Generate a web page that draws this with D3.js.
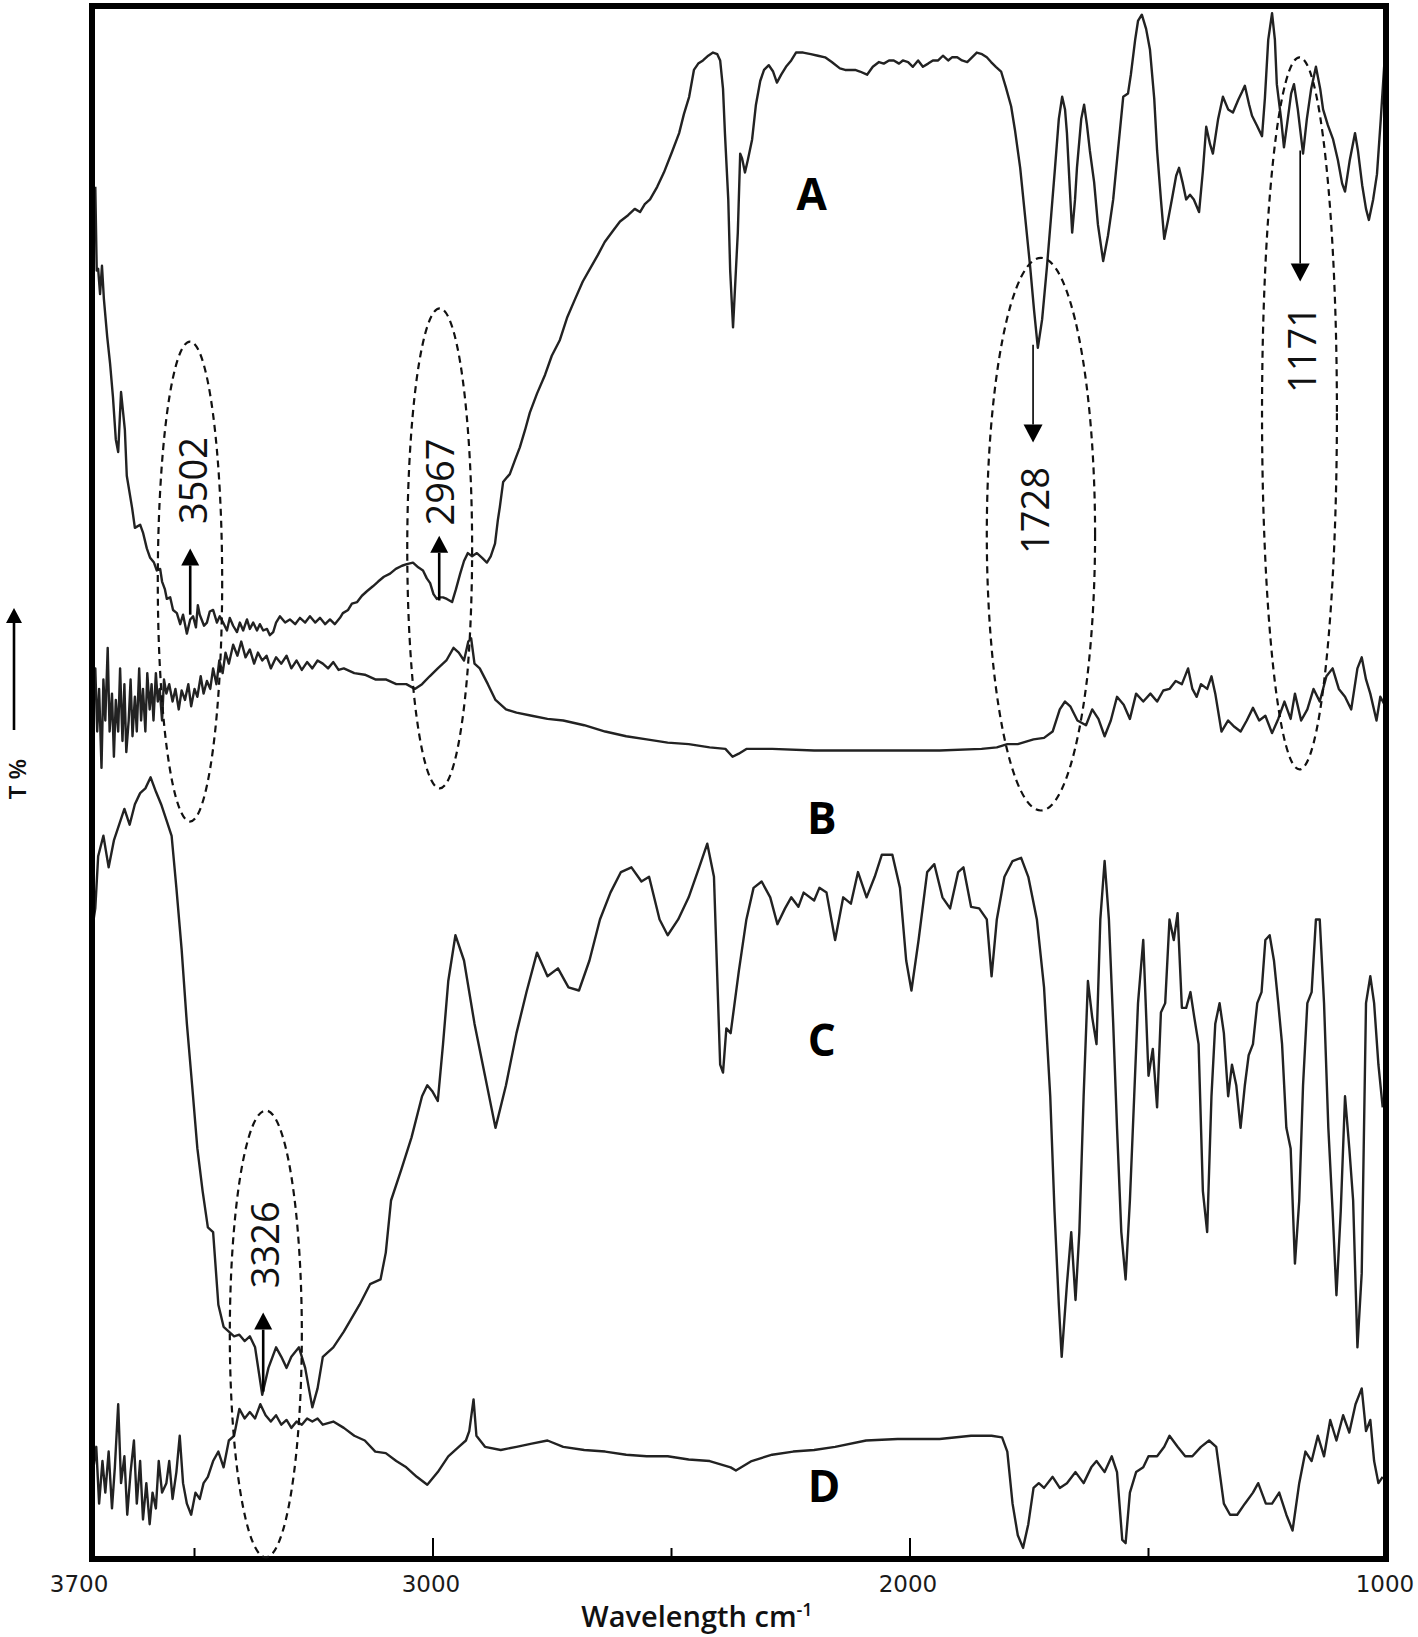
<!DOCTYPE html>
<html>
    <head>
        <meta charset="utf-8">
        <title>FTIR spectra A-D</title>
        <style>
            body { margin: 0; background: #fff; }
            svg { display: block; }
            .curve { fill: none; stroke: #222; stroke-width: 2.4; stroke-linejoin: round; }
            .oval { fill: none; stroke: #111; stroke-width: 2.2; stroke-dasharray: 7,5; }
        </style>
    </head>
    <body>
        <script src="https://d3js.org/d3.v7.min.js"></script>
        <script>
            // [wavenumber cm-1, T (relative %)]
            var seriesA = [
                [3708,88.5],[3705,83.2],[3702,83.3],[3698,81.7],[3694,83.5],[3690,81.4],[3683,79.0],[3677,77.3],[3671,75.2],[3665,72.5],
                [3660,71.7],[3654,75.5],[3646,73.1],[3642,70.2],[3631,68.2],[3625,66.9],[3614,67.1],[3608,66.6],[3600,65.6],[3593,65.0],
                [3585,64.7],[3579,64.2],[3572,64.3],[3568,63.5],[3562,63.0],[3558,62.4],[3551,62.5],[3545,61.7],[3537,61.5],[3530,60.8],
                [3524,61.4],[3516,60.2],[3509,61.1],[3503,61.3],[3497,60.6],[3493,62.0],[3489,61.4],[3480,60.7],[3474,60.9],[3468,61.6],
                [3461,61.7],[3453,60.9],[3447,61.3],[3440,60.9],[3432,60.4],[3426,61.2],[3419,60.7],[3411,60.3],[3405,60.9],[3398,60.4],
                [3390,61.1],[3384,60.5],[3377,60.9],[3369,60.4],[3363,60.8],[3356,60.4],[3348,60.5],[3342,60.1],[3335,60.3],[3329,60.9],
                [3321,61.3],[3310,60.9],[3300,61.1],[3289,60.8],[3279,61.2],[3268,60.9],[3258,61.3],[3247,60.9],[3237,61.2],[3226,60.8],
                [3216,61.1],[3206,60.8],[3195,61.2],[3189,61.5],[3178,61.7],[3170,62.1],[3159,62.2],[3149,62.6],[3138,62.9],[3126,63.2],
                [3115,63.5],[3103,63.8],[3090,64.0],[3078,64.3],[3065,64.5],[3055,64.6],[3042,64.7],[3031,64.4],[3021,64.2],[3013,63.7],
                [3006,63.4],[2999,62.7],[2992,62.4],[2985,62.5],[2979,62.5],[2971,62.4],[2960,62.2],[2952,63.0],[2943,64.0],[2935,64.8],
                [2927,65.3],[2918,65.1],[2908,65.3],[2897,65.0],[2887,64.7],[2879,65.1],[2870,65.9],[2864,67.4],[2860,68.2],[2853,69.8],
                [2845,70.1],[2839,70.3],[2828,71.2],[2818,72.0],[2807,73.1],[2797,74.2],[2782,75.4],[2765,76.6],[2751,77.8],[2734,78.8],
                [2719,80.2],[2702,81.4],[2686,82.5],[2671,83.3],[2654,84.2],[2640,85.0],[2623,85.7],[2608,86.3],[2591,86.7],[2577,87.1],
                [2566,86.9],[2556,87.4],[2545,87.7],[2530,88.5],[2516,89.4],[2499,90.7],[2484,91.9],[2474,93.1],[2463,94.2],[2453,95.9],
                [2444,96.3],[2434,96.5],[2423,96.8],[2413,97.0],[2404,96.9],[2398,96.5],[2392,94.7],[2388,91.9],[2381,87.7],[2377,83.2],
                [2371,79.6],[2365,83.2],[2361,85.6],[2356,90.6],[2352,90.3],[2346,89.4],[2340,90.2],[2331,91.5],[2323,93.7],[2314,95.2],
                [2306,95.9],[2296,96.2],[2287,95.8],[2279,95.1],[2270,95.6],[2260,96.1],[2249,96.5],[2239,97.0],[2224,97.0],[2208,96.9],
                [2193,96.8],[2178,96.7],[2164,96.4],[2147,96.0],[2136,95.9],[2126,95.9],[2115,95.9],[2105,95.8],[2090,95.6],[2078,96.1],
                [2065,96.4],[2055,96.3],[2044,96.5],[2034,96.5],[2023,96.3],[2015,96.5],[2004,96.4],[1994,96.1],[1983,96.5],[1973,96.1],
                [1962,96.3],[1952,96.5],[1941,96.5],[1931,96.8],[1920,96.5],[1912,96.7],[1901,96.7],[1891,96.5],[1880,96.4],[1870,96.7],
                [1860,97.0],[1849,96.9],[1839,96.7],[1830,96.4],[1820,96.1],[1809,95.8],[1799,94.8],[1788,93.6],[1780,92.1],[1769,89.7],
                [1759,86.7],[1748,83.4],[1740,80.7],[1732,78.3],[1723,80.1],[1713,83.4],[1704,86.7],[1696,89.7],[1688,92.8],[1681,94.2],
                [1675,93.4],[1671,91.9],[1665,88.4],[1660,85.6],[1654,87.7],[1650,89.7],[1641,92.8],[1635,93.7],[1629,92.4],[1623,90.8],
                [1614,88.8],[1606,86.1],[1595,83.8],[1585,85.4],[1574,87.7],[1564,90.8],[1553,94.2],[1543,94.4],[1537,95.6],[1528,97.8],
                [1522,99.0],[1514,99.4],[1505,98.5],[1497,97.2],[1488,94.1],[1482,90.8],[1474,87.7],[1467,85.2],[1459,86.4],[1451,87.7],
                [1442,89.2],[1436,89.7],[1428,88.7],[1421,87.7],[1413,88.0],[1405,87.7],[1394,86.9],[1386,89.5],[1379,92.3],[1371,91.2],
                [1365,90.6],[1354,92.8],[1344,94.2],[1333,93.4],[1323,93.2],[1312,94.0],[1304,94.5],[1298,94.9],[1289,93.7],[1283,93.0],
                [1273,92.4],[1262,91.7],[1256,94.1],[1249,97.8],[1241,99.5],[1235,97.8],[1231,95.0],[1222,92.8],[1216,91.0],[1208,92.8],
                [1201,94.4],[1195,95.0],[1187,93.4],[1176,90.6],[1168,92.8],[1159,94.7],[1149,96.1],[1140,94.7],[1134,93.4],[1124,92.4],
                [1113,91.5],[1103,90.2],[1094,88.7],[1088,88.2],[1078,90.2],[1067,91.9],[1061,90.8],[1052,88.6],[1044,87.1],[1038,86.4],
                [1029,87.7],[1021,89.3],[1013,92.8],[1006,96.1],[1002,97.2]
            ];
            var seriesB = [
                [3713,55.4],[3708,58.0],[3704,54.0],[3700,56.7],[3695,51.7],[3691,57.3],[3687,54.7],[3682,59.3],[3678,54.0],[3673,56.4],
                [3669,52.4],[3665,56.0],[3660,54.0],[3656,58.0],[3651,53.4],[3647,57.0],[3643,52.7],[3638,54.7],[3634,57.3],[3630,53.7],
                [3625,56.2],[3621,54.0],[3616,58.0],[3612,54.7],[3608,56.7],[3603,54.0],[3599,57.7],[3594,55.4],[3590,57.0],[3586,54.7],
                [3581,57.7],[3577,55.9],[3573,56.7],[3568,54.7],[3564,57.3],[3559,56.4],[3553,57.0],[3546,55.9],[3540,56.7],[3533,55.4],
                [3527,56.6],[3520,56.0],[3513,57.0],[3507,55.6],[3500,56.7],[3494,56.2],[3487,57.5],[3481,56.4],[3474,57.2],[3467,56.7],
                [3461,58.0],[3454,57.0],[3448,58.5],[3441,57.7],[3435,59.0],[3428,58.3],[3419,59.5],[3410,58.8],[3402,59.7],[3393,58.7],
                [3384,59.2],[3375,58.3],[3367,59.0],[3358,58.5],[3349,58.8],[3340,58.0],[3329,58.7],[3318,58.3],[3307,58.8],[3297,58.0],
                [3286,58.5],[3275,57.9],[3264,58.4],[3253,58.0],[3242,58.5],[3231,58.3],[3220,58.0],[3209,58.4],[3198,57.9],[3187,58.0],
                [3165,57.7],[3143,57.6],[3121,57.3],[3099,57.3],[3077,57.0],[3056,57.0],[3038,56.7],[3023,57.0],[3007,57.5],[2990,58.0],
                [2972,58.5],[2957,59.3],[2946,59.0],[2935,58.5],[2926,59.7],[2920,59.9],[2913,58.3],[2902,58.0],[2885,57.0],[2869,56.0],
                [2847,55.4],[2825,55.2],[2793,55.0],[2760,54.8],[2727,54.7],[2683,54.4],[2639,54.0],[2595,53.7],[2552,53.5],[2508,53.3],
                [2464,53.2],[2420,53.0],[2387,52.9],[2372,52.4],[2359,52.6],[2343,52.9],[2289,52.9],[2201,52.8],[2113,52.8],[2026,52.8],
                [1938,52.8],[1850,52.9],[1818,53.0],[1796,53.2],[1774,53.2],[1741,53.5],[1719,53.6],[1701,54.0],[1686,55.4],[1675,55.9],
                [1664,55.6],[1649,54.7],[1631,54.4],[1618,55.4],[1605,54.8],[1592,53.7],[1579,54.7],[1566,56.2],[1552,55.7],[1539,54.8],
                [1526,56.4],[1511,55.9],[1496,56.4],[1482,55.9],[1469,56.6],[1456,56.7],[1443,57.2],[1430,57.0],[1417,58.0],[1408,56.7],
                [1399,56.2],[1390,57.0],[1377,56.7],[1368,57.5],[1360,56.4],[1347,54.0],[1333,54.7],[1320,54.3],[1307,54.0],[1294,54.7],
                [1281,55.5],[1268,54.7],[1255,55.0],[1241,53.9],[1228,54.8],[1215,55.9],[1202,54.8],[1193,56.4],[1180,54.7],[1167,55.4],
                [1154,56.7],[1141,55.9],[1127,57.5],[1114,58.0],[1101,56.7],[1088,56.2],[1075,55.4],[1062,58.0],[1053,58.7],[1044,57.3],
                [1035,56.4],[1022,54.7],[1014,56.2],[1005,55.7]
            ];
            var seriesC = [
                [3713,41.8],[3708,42.8],[3702,46.1],[3691,47.4],[3680,45.4],[3669,47.1],[3658,48.1],[3647,49.1],[3636,48.1],[3625,49.4],
                [3614,50.1],[3603,50.4],[3592,51.1],[3581,50.2],[3570,49.4],[3559,48.4],[3548,47.4],[3538,44.1],[3527,40.2],[3516,35.5],
                [3505,31.6],[3494,27.6],[3483,24.9],[3472,22.6],[3461,22.3],[3450,17.7],[3439,16.3],[3428,16.0],[3417,15.7],[3406,15.8],
                [3395,15.4],[3384,15.7],[3373,15.0],[3358,12.0],[3345,13.7],[3329,15.0],[3318,14.4],[3307,13.7],[3297,14.4],[3281,15.0],
                [3268,13.7],[3253,11.2],[3242,12.4],[3231,14.4],[3209,15.0],[3187,16.0],[3154,17.7],[3132,19.0],[3110,19.3],[3099,21.0],
                [3088,24.3],[3066,26.3],[3045,28.3],[3023,30.9],[3012,31.6],[3001,31.2],[2990,30.6],[2979,34.2],[2968,38.2],[2953,41.1],
                [2935,39.5],[2913,35.5],[2891,32.2],[2869,28.9],[2847,31.6],[2825,34.9],[2804,37.5],[2782,40.0],[2760,38.5],[2738,39.0],
                [2716,37.8],[2694,37.6],[2672,39.5],[2650,42.1],[2628,43.8],[2606,45.1],[2584,45.4],[2563,44.5],[2547,44.8],[2525,42.1],
                [2508,41.1],[2486,42.1],[2464,43.5],[2442,45.4],[2425,46.9],[2411,44.8],[2398,32.9],[2392,32.4],[2385,35.2],[2376,34.9],
                [2359,38.8],[2343,42.1],[2328,44.1],[2311,44.5],[2293,43.5],[2278,41.8],[2262,42.8],[2249,43.5],[2234,42.9],[2223,43.8],
                [2201,43.3],[2190,44.1],[2175,43.8],[2157,40.8],[2140,43.5],[2124,43.1],[2109,45.1],[2091,43.5],[2074,44.8],[2059,46.2],
                [2037,46.2],[2021,44.1],[2008,39.5],[1997,37.6],[1982,40.8],[1964,45.1],[1949,45.6],[1932,43.5],[1916,42.8],[1899,45.1],
                [1888,45.4],[1872,42.9],[1855,42.8],[1839,42.1],[1829,38.5],[1818,42.1],[1802,44.8],[1785,45.8],[1767,46.0],[1752,44.8],
                [1734,42.1],[1719,37.8],[1706,30.9],[1697,23.6],[1688,17.7],[1682,14.4],[1671,19.0],[1662,22.3],[1653,18.0],[1645,22.3],
                [1636,30.9],[1627,38.2],[1618,35.9],[1609,34.2],[1601,42.1],[1592,45.8],[1583,42.1],[1574,35.5],[1566,28.9],[1557,22.3],
                [1548,19.3],[1539,24.3],[1530,30.9],[1522,36.8],[1511,40.8],[1500,32.2],[1491,33.9],[1482,30.2],[1474,36.2],[1465,36.8],
                [1456,42.1],[1447,40.8],[1439,42.5],[1430,36.5],[1421,36.5],[1412,37.5],[1404,35.9],[1395,34.2],[1386,24.9],[1377,22.3],
                [1368,30.9],[1360,35.5],[1351,36.8],[1342,34.9],[1333,30.9],[1325,32.9],[1316,31.6],[1307,28.9],[1298,31.6],[1290,33.5],
                [1281,34.2],[1272,36.8],[1263,37.5],[1255,40.8],[1246,41.1],[1237,39.5],[1228,36.8],[1220,34.2],[1211,28.9],[1202,27.6],
                [1193,20.3],[1184,24.3],[1176,31.6],[1167,36.8],[1158,37.5],[1149,42.1],[1141,42.1],[1132,36.8],[1123,28.9],[1114,23.6],
                [1106,18.3],[1097,23.6],[1088,30.9],[1079,27.6],[1071,24.3],[1062,15.0],[1053,19.7],[1044,36.8],[1035,38.5],[1027,36.8],
                [1018,32.9],[1009,30.2]
            ];
            var seriesD = [
                [3713,7.1],[3706,8.7],[3700,5.1],[3693,7.8],[3687,5.8],[3680,8.4],[3673,4.8],[3667,7.4],[3660,11.4],[3654,6.4],
                [3647,8.1],[3641,4.4],[3634,7.1],[3627,9.1],[3621,5.1],[3614,7.8],[3608,4.1],[3601,6.4],[3594,3.8],[3588,5.8],
                [3581,4.8],[3575,7.8],[3568,5.8],[3559,6.4],[3553,7.8],[3546,5.4],[3538,7.1],[3531,9.4],[3524,6.4],[3516,5.1],
                [3507,4.4],[3498,5.8],[3489,5.4],[3481,6.4],[3472,6.8],[3461,7.8],[3450,8.4],[3439,7.4],[3428,9.1],[3417,9.4],
                [3406,11.1],[3395,10.5],[3384,10.9],[3373,10.5],[3362,11.4],[3351,10.7],[3340,10.3],[3329,10.7],[3318,10.1],[3307,10.4],
                [3297,9.9],[3286,10.3],[3275,10.1],[3264,10.5],[3253,10.3],[3242,10.5],[3231,10.1],[3209,10.3],[3187,9.9],[3165,9.4],
                [3143,9.1],[3121,8.4],[3099,8.3],[3077,7.8],[3056,7.4],[3034,6.8],[3012,6.3],[2990,7.1],[2968,8.1],[2946,8.7],
                [2931,9.1],[2924,9.7],[2915,11.7],[2909,9.4],[2891,8.7],[2858,8.5],[2825,8.7],[2793,8.9],[2760,9.1],[2727,8.7],
                [2683,8.5],[2639,8.4],[2595,8.2],[2552,8.1],[2508,8.1],[2464,7.9],[2420,7.8],[2376,7.4],[2365,7.2],[2332,7.8],
                [2289,8.2],[2245,8.4],[2201,8.5],[2157,8.7],[2092,9.1],[2026,9.2],[1938,9.2],[1872,9.4],[1829,9.4],[1807,9.3],
                [1796,8.4],[1785,5.1],[1774,3.1],[1763,2.3],[1752,3.8],[1741,6.1],[1730,6.4],[1719,6.1],[1701,6.8],[1686,6.1],
                [1671,6.4],[1653,7.1],[1636,6.4],[1620,7.4],[1609,7.8],[1592,7.1],[1577,8.1],[1566,7.1],[1555,2.8],[1548,2.6],
                [1539,5.8],[1526,7.1],[1511,7.4],[1500,8.1],[1482,8.1],[1467,8.7],[1456,9.4],[1439,8.7],[1423,8.1],[1408,8.1],
                [1390,8.7],[1373,9.1],[1358,8.7],[1342,5.1],[1329,4.4],[1314,4.4],[1298,5.1],[1281,5.8],[1270,6.4],[1254,5.1],
                [1241,5.1],[1226,5.8],[1211,4.4],[1198,3.4],[1184,6.4],[1171,8.4],[1158,7.8],[1145,9.4],[1132,8.1],[1119,10.4],
                [1106,9.1],[1092,10.7],[1079,9.6],[1066,11.4],[1053,12.4],[1044,9.7],[1035,10.4],[1027,7.8],[1018,6.4],[1009,6.8]
            ];

            // 曲線名とその位置
            var curveNames = ["A", "B", "C", "D"];
            var curveNameWn = [2206, 2185, 2185, 2180];
            var curveNameT = [88.1, 48.6, 34.5, 6.3];

            // 目盛り
            var minorTicks = [3500, 2500, 1500];
            var majorTicks = [3000, 2000];
            var tickLabels = [3700, 3000, 2000, 1000];

            // ピーク注記
            var peakLabels = ["3502", "2967", "1728", "1171", "3326"];
            var peakLabelWn = [3505, 2987, 1740, 1180, 3354];
            var peakLabelT = [69.9, 69.8, 68.0, 78.2, 21.5];
            var ovalWn = [[3577, 3442], [3054, 2918], [1839, 1612], [1262, 1105], [3426, 3275]];
            var ovalT = [[78.7, 48.3], [80.8, 50.4], [84.0, 49.0], [96.7, 51.6], [30.0, 1.7]];
            var arrowWn = [3509, 2987, 1742, 1182, 3356];
            var arrowT = [[61.4, 65.6], [62.3, 66.4], [78.5, 72.3], [90.8, 82.5], [12.2, 17.2]];

            var width = 1418, height = 1637;
            var frame = {left: 92, right: 1386, top: 6, bottom: 1559};

            var svg = d3.select("body").append("svg")
                .attr("width", width)
                .attr("height", height);

            svg.append("rect")
                .attr("width", width).attr("height", height)
                .attr("fill", "#fff");

            var x = d3.scaleLinear().domain([3717, 1000]).range([91, 1387]);
            var y = d3.scaleLinear().domain([0, 100]).range([1584.2, 5.2]);

            var line = d3.line()
                .x(function(d) { return x(d[0]); })
                .y(function(d) { return y(d[1]); });

            // スペクトル
            svg.append("g")
                .selectAll("path")
                .data([seriesA, seriesB, seriesC, seriesD])
                .enter()
                .append("path")
                .attr("class", "curve")
                .attr("d", line);

            // 枠
            svg.append("rect")
                .attr("x", frame.left).attr("y", frame.top)
                .attr("width", frame.right - frame.left)
                .attr("height", frame.bottom - frame.top)
                .attr("fill", "none")
                .attr("stroke", "#000")
                .attr("stroke-width", 6);

            // x軸目盛り（内向き）
            var ticks = svg.append("g");
            ticks.selectAll("line.minor")
                .data(minorTicks).enter().append("line")
                .attr("x1", x).attr("x2", x)
                .attr("y1", frame.bottom - 3).attr("y2", frame.bottom - 11)
                .attr("stroke", "#000").attr("stroke-width", 2);
            ticks.selectAll("line.major")
                .data(majorTicks).enter().append("line")
                .attr("x1", x).attr("x2", x)
                .attr("y1", frame.bottom - 3).attr("y2", frame.bottom - 21)
                .attr("stroke", "#000").attr("stroke-width", 2);

            ticks.selectAll("text")
                .data(tickLabels).enter().append("text")
                .attr("x", function(d) { return x(d) + (d === 3700 ? -20 : -2); })
                .attr("y", 1592)
                .attr("text-anchor", "middle")
                .style("font-family", "'DejaVu Sans', sans-serif")
                .style("font-size", "23px")
                .attr("fill", "#1a1a1a")
                .text(function(d) { return d; });

            // x軸タイトル
            var xt = svg.append("text")
                .attr("x", 697).attr("y", 1627)
                .attr("text-anchor", "middle")
                .style("font-family", "'Open Sans', sans-serif")
                .style("font-weight", 600)
                .style("font-size", "29px")
                .attr("fill", "#111");
            xt.append("tspan").text("Wavelength cm");
            xt.append("tspan").attr("dy", -11).style("font-size", "18px").text("-1");

            // y軸タイトルと矢印
            svg.append("text")
                .attr("transform", "translate(26,779) rotate(-90)")
                .attr("text-anchor", "middle")
                .style("font-family", "'Open Sans', sans-serif")
                .style("font-weight", 600)
                .style("font-size", "24px")
                .attr("fill", "#111")
                .text("T %");

            function arrow(g, x0, y0, x1, y1, w, headW, headH) {
                var dir = y1 < y0 ? -1 : 1;
                g.append("line")
                    .attr("x1", x0).attr("y1", y0)
                    .attr("x2", x1).attr("y2", y1 - dir * headH)
                    .attr("stroke", "#000").attr("stroke-width", w);
                g.append("path")
                    .attr("d", "M" + x1 + "," + y1 +
                        "L" + (x1 - headW / 2) + "," + (y1 - dir * headH) +
                        "L" + (x1 + headW / 2) + "," + (y1 - dir * headH) + "Z")
                    .attr("fill", "#000");
            }

            var notes = svg.append("g");
            arrow(notes, 14, 730, 14, 608, 2.6, 16, 15);

            // 楕円
            notes.selectAll("ellipse")
                .data(ovalWn).enter().append("ellipse")
                .attr("class", "oval")
                .attr("cx", function(d) { return (x(d[0]) + x(d[1])) / 2; })
                .attr("cy", function(d, i) { return (y(ovalT[i][0]) + y(ovalT[i][1])) / 2; })
                .attr("rx", function(d) { return Math.abs(x(d[1]) - x(d[0])) / 2; })
                .attr("ry", function(d, i) { return Math.abs(y(ovalT[i][1]) - y(ovalT[i][0])) / 2; });

            // 矢印
            arrowWn.forEach(function(w, i) {
                var thin = (i === 2 || i === 3);
                arrow(notes, x(w), y(arrowT[i][0]), x(w), y(arrowT[i][1]),
                    thin ? 1.6 : 2.6, thin ? 19 : 18, thin ? 18 : 17);
            });

            // ピーク値（縦書き）
            notes.selectAll("text.peak")
                .data(peakLabels).enter().append("text")
                .attr("class", "peak")
                .attr("transform", function(d, i) {
                    return "translate(" + x(peakLabelWn[i]) + "," + y(peakLabelT[i]) + ") rotate(-90)";
                })
                .attr("text-anchor", "middle")
                .attr("dominant-baseline", "central")
                .style("font-family", "'Open Sans', sans-serif")
                .style("font-size", "38px")
                .attr("fill", "#111")
                .text(function(d) { return d; });

            // 曲線ラベル
            svg.selectAll("text.name")
                .data(curveNames).enter().append("text")
                .attr("class", "name")
                .attr("x", function(d, i) { return x(curveNameWn[i]); })
                .attr("y", function(d, i) { return y(curveNameT[i]); })
                .attr("text-anchor", "middle")
                .attr("dominant-baseline", "central")
                .style("font-family", "'Open Sans', sans-serif")
                .style("font-weight", 700)
                .style("font-size", "44px")
                .attr("fill", "#000")
                .text(function(d) { return d; });
        </script>
    </body>
</html>
